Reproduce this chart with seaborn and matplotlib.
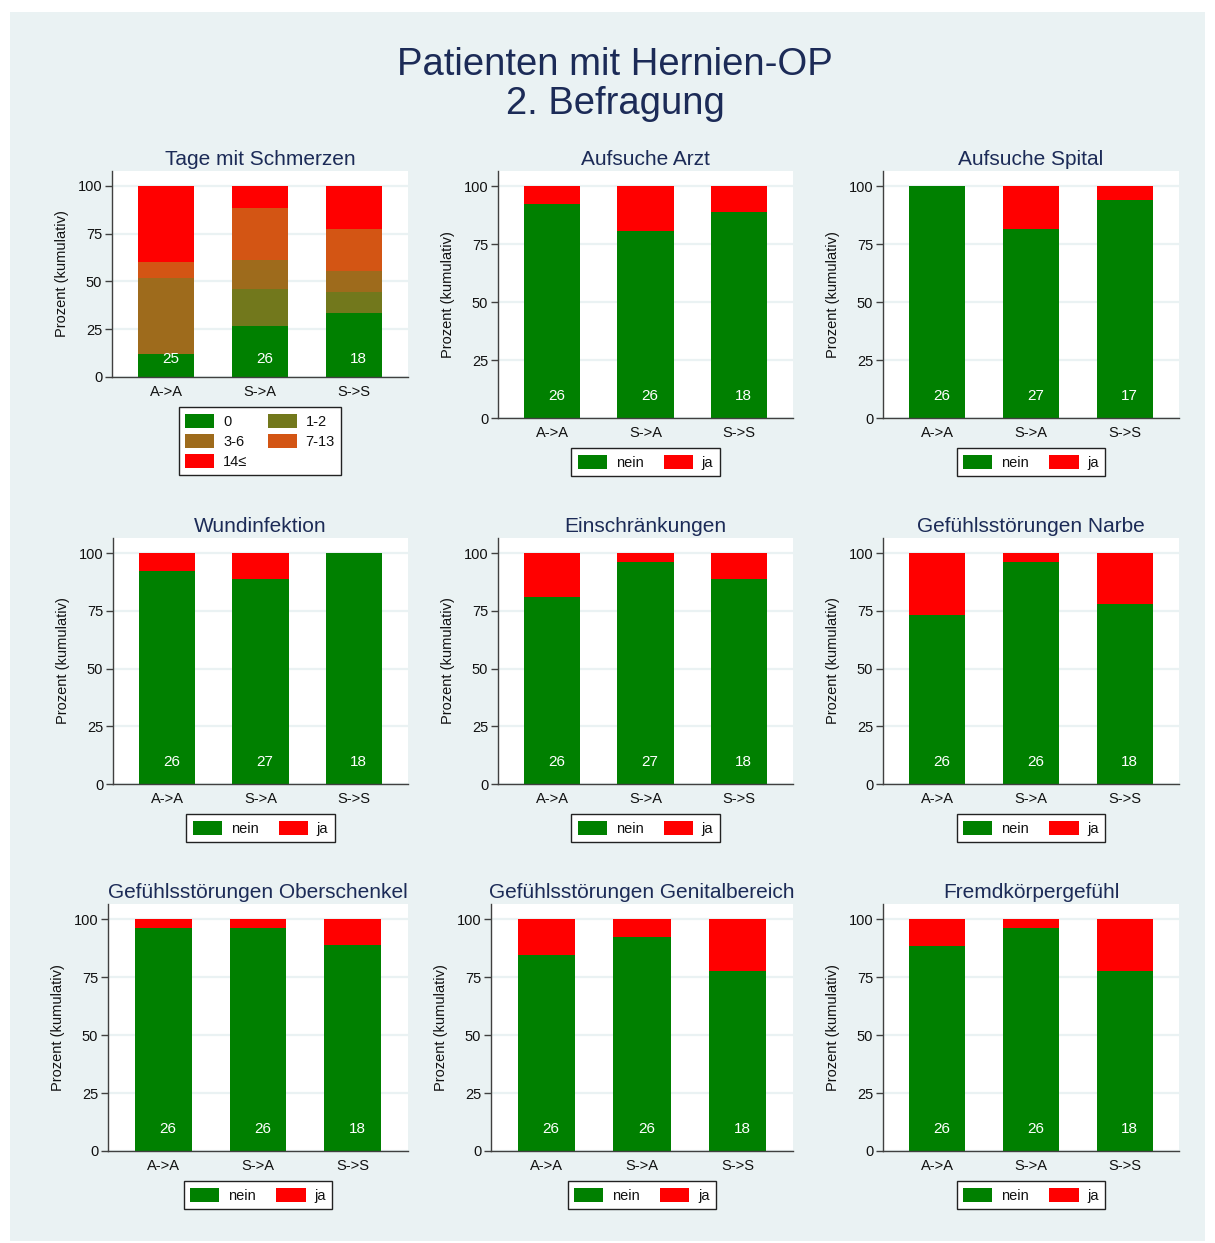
import numpy as np
import pandas as pd
import seaborn as sns
import matplotlib
matplotlib.use("Agg")
import matplotlib.pyplot as plt
from matplotlib.patches import Patch, Rectangle

sns.set_style("white")
plt.rcParams['font.family'] = ['Liberation Sans', 'DejaVu Sans']

# ---------------- data ----------------
groups = ["A->A", "S->A", "S->S"]

# Panel 1: Tage mit Schmerzen (percent per class)
pain_classes = ["0", "1-2", "3-6", "7-13", "14≤"]
pain_0 = [12.0, 26.9, 33.3]
pain_1_2 = [0.0, 19.2, 11.1]
pain_3_6 = [40.0, 15.4, 11.1]
pain_7_13 = [8.0, 26.9, 22.2]
pain_14 = [40.0, 11.6, 22.3]
pain_n = [25, 26, 18]

titles = ["Aufsuche Arzt", "Aufsuche Spital", "Wundinfektion",
          "Einschränkungen", "Gefühlsstörungen Narbe",
          "Gefühlsstörungen Oberschenkel", "Gefühlsstörungen Genitalbereich",
          "Fremdkörpergefühl"]
nein_arzt = [92.3, 80.8, 88.9]
ja_arzt = [7.7, 19.2, 11.1]
n_arzt = [26, 26, 18]
nein_spital = [100.0, 81.5, 94.1]
ja_spital = [0.0, 18.5, 5.9]
n_spital = [26, 27, 17]
nein_wund = [92.3, 88.9, 100.0]
ja_wund = [7.7, 11.1, 0.0]
n_wund = [26, 27, 18]
nein_einschr = [80.8, 96.3, 88.9]
ja_einschr = [19.2, 3.7, 11.1]
n_einschr = [26, 27, 18]
nein_narbe = [73.1, 96.2, 77.8]
ja_narbe = [26.9, 3.8, 22.2]
n_narbe = [26, 26, 18]
nein_obersch = [96.2, 96.2, 88.9]
ja_obersch = [3.8, 3.8, 11.1]
n_obersch = [26, 26, 18]
nein_genital = [84.6, 92.3, 77.8]
ja_genital = [15.4, 7.7, 22.2]
n_genital = [26, 26, 18]
nein_fremd = [88.5, 96.2, 77.8]
ja_fremd = [11.5, 3.8, 22.2]
n_fremd = [26, 26, 18]

yn_labels = ["nein", "ja"]
yticks = [0, 25, 50, 75, 100]

# ---------------- style ----------------
W, H = 1215, 1243
BG = "#eaf2f3"
TITLE_C = "#1c2b57"
GREEN = "#008000"
RED = "#ff0000"
PAIN_COLORS = [GREEN, "#72781c", "#9e6b1c", "#d35514", RED]
FS = 10.5

fig = plt.figure(figsize=(W / 100, H / 100), dpi=100, facecolor="white")
fig.patches.append(Rectangle((10 / W, 2 / H), 1195 / W, 1229 / H,
                             transform=fig.transFigure, facecolor=BG,
                             edgecolor="none", zorder=-10))

fig.text(615 / W, 1 - 65 / H, "Patienten mit Hernien-OP", ha="center",
         va="center", fontsize=27.5, color=TITLE_C)
fig.text(615 / W, 1 - 104 / H, "2. Befragung", ha="center",
         va="center", fontsize=27.5, color=TITLE_C)

# axes boxes in pixels: left, top, right, bottom
boxes = [
    (112, 171, 408, 377), (498, 171, 793, 418), (883, 171, 1179, 418),
    (113, 538, 408, 784), (498, 538, 793, 784), (883, 538, 1179, 784),
    (108, 904, 408, 1151), (491, 904, 793, 1151), (883, 904, 1179, 1151),
]


def make_ax(box):
    l, t, r, b = box
    ax = fig.add_axes([l / W, 1 - b / H, (r - l) / W, (b - t) / H])
    ax.set_facecolor("white")
    return ax


def style_ax(ax, title, ytop, box):
    ax.set_xlim(-0.58, 2.58)
    ax.set_ylim(0, ytop)
    ax.set_axisbelow(True)
    ax.yaxis.grid(True, color=BG, linewidth=1.6)
    ax.xaxis.grid(False)
    ax.set_yticks(yticks)
    ax.set_xticks(range(3))
    ax.set_xticklabels(groups)
    ax.tick_params(axis="y", length=5, width=1, color="#404040",
                   labelsize=FS, pad=2, labelcolor="#111111", direction="out",
                   left=True)
    ax.tick_params(axis="x", length=0, labelsize=FS, pad=6,
                   labelcolor="#111111")
    for s in ["top", "right"]:
        ax.spines[s].set_visible(False)
    for s in ["left", "bottom"]:
        ax.spines[s].set_color("#404040")
        ax.spines[s].set_linewidth(1.0)
    ax.set_xlabel("")
    ax.set_ylabel("Prozent (kumulativ)", fontsize=FS, color="#111111",
                  labelpad=6)
    ax.set_title(title, fontsize=15, color=TITLE_C, pad=4.5)


def bar_labels(ax, ns):
    for i, n in enumerate(ns):
        ax.text(i + 0.05, 9.5, str(n), color="white", ha="center",
                va="center", fontsize=FS + 0.5)


def add_legend(ax, handles, box, ncol):
    l, t, r, b = box
    off = 30 / (b - t)
    leg = ax.legend(handles=handles, loc="upper center",
                    bbox_to_anchor=(0.5, -off), ncol=ncol, fontsize=FS,
                    frameon=True, fancybox=False, framealpha=1,
                    edgecolor="#222222", facecolor="white",
                    handlelength=2.0, handleheight=1.1, handletextpad=0.6,
                    columnspacing=1.4, borderpad=0.45, labelspacing=0.35,
                    borderaxespad=0)
    leg.get_frame().set_linewidth(1.0)
    for txt in leg.get_texts():
        txt.set_color("#111111")


# ---------- panel 1 ----------
ax = make_ax(boxes[0])
layers = [pain_0, pain_1_2, pain_3_6, pain_7_13, pain_14]
cum = np.cumsum(np.array(layers), axis=0)
for k in reversed(range(len(layers))):
    df = pd.DataFrame({"grp": groups, "val": cum[k]})
    sns.barplot(data=df, x="grp", y="val", order=groups,
                color=PAIN_COLORS[k], saturation=1, width=0.6,
                linewidth=0, ax=ax)
bar_labels(ax, pain_n)
style_ax(ax, "Tage mit Schmerzen", 107.85, boxes[0])
order = [0, 2, 4, 1, 3]
handles = [Patch(facecolor=PAIN_COLORS[i], edgecolor="none",
                 label=pain_classes[i]) for i in order]
add_legend(ax, handles, boxes[0], 2)

# ---------- yes/no panels ----------
yn_data = [
    (nein_arzt, ja_arzt, n_arzt), (nein_spital, ja_spital, n_spital),
    (nein_wund, ja_wund, n_wund), (nein_einschr, ja_einschr, n_einschr),
    (nein_narbe, ja_narbe, n_narbe), (nein_obersch, ja_obersch, n_obersch),
    (nein_genital, ja_genital, n_genital), (nein_fremd, ja_fremd, n_fremd),
]
for idx, (title, (nein, ja, ns)) in enumerate(zip(titles, yn_data)):
    box = boxes[idx + 1]
    ax = make_ax(box)
    total = np.array(nein) + np.array(ja)
    df_top = pd.DataFrame({"grp": groups, "val": total})
    df_bot = pd.DataFrame({"grp": groups, "val": nein})
    sns.barplot(data=df_top, x="grp", y="val", order=groups, color=RED,
                saturation=1, width=0.6, linewidth=0, ax=ax)
    sns.barplot(data=df_bot, x="grp", y="val", order=groups, color=GREEN,
                saturation=1, width=0.6, linewidth=0, ax=ax)
    bar_labels(ax, ns)
    style_ax(ax, title, 106.5, box)
    handles = [Patch(facecolor=GREEN, edgecolor="none", label=yn_labels[0]),
               Patch(facecolor=RED, edgecolor="none", label=yn_labels[1])]
    add_legend(ax, handles, box, 2)

fig.savefig("out.png", dpi=100, facecolor="white")
